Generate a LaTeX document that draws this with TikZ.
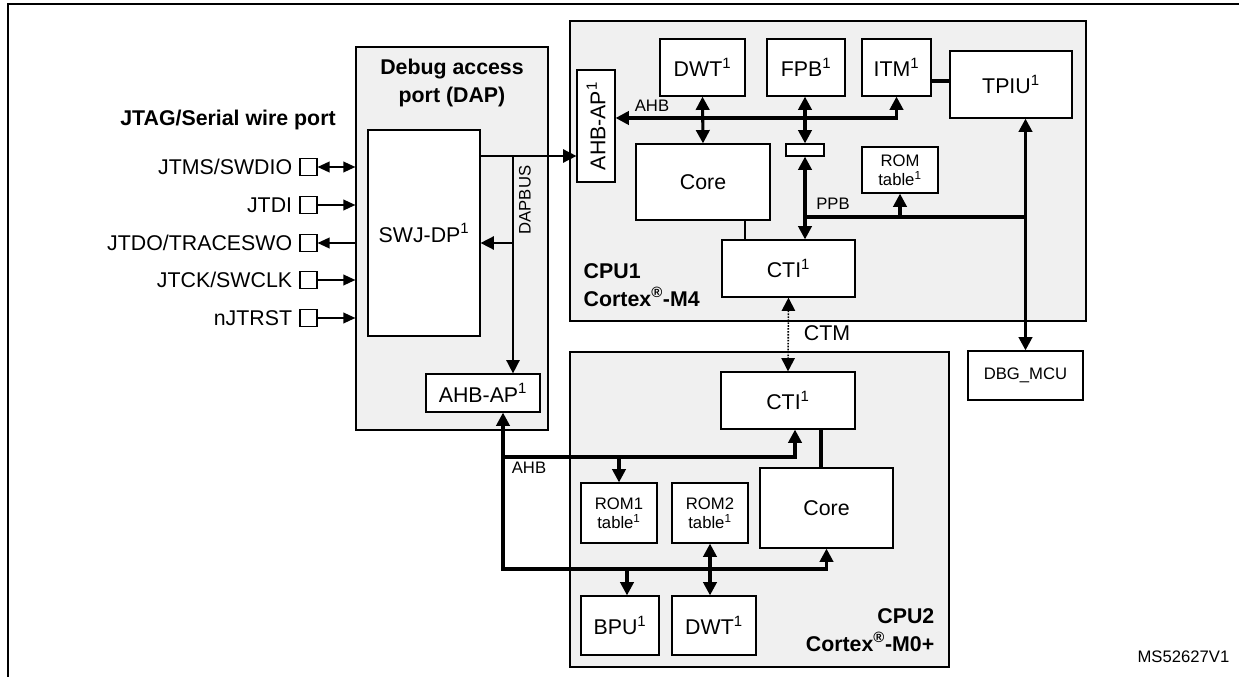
\documentclass[tikz,border=0pt]{standalone}
\usepackage{fontspec}
\setmainfont{Liberation Sans}
\usetikzlibrary{arrows.meta,positioning}

\begin{document}
\begin{tikzpicture}[
  x=0.75pt, y=-0.75pt,
  font=\fontsize{16}{18}\selectfont,          % main text size
  sz/.style 2 args = {minimum width=#1*0.75pt,
                      minimum height=#2*0.75pt},
  box/.style      = {rectangle, draw, fill=white, line width=0.9pt,
                     inner sep=0pt, align=center},
  group/.style    = {rectangle, draw, fill=black!6, line width=0.9pt,
                     inner sep=0pt},
  small/.style    = {font=\fontsize{12.5}{14}\selectfont},
  heading/.style  = {font=\bfseries\fontsize{16}{21}\selectfont},
  pin/.style      = {rectangle, draw, fill=white, line width=0.8pt,
                     minimum size=17*0.75pt, inner sep=0pt},
  thin/.tip       = {Triangle[length=9pt,width=8pt]},
  tip/.tip        = {Triangle[length=10pt,width=10pt]},
  arrow/.style    = {line width=1.2pt, -thin},
  bus/.style      = {line width=2.3pt}
]
\useasboundingbox (0,0) rectangle (1239,677);

% outer frame
\draw[line width=1pt] (8,677) -- (8,4) -- (1239,4);

% containers
\node[group, sz={192}{383}] (dap)  at (452,238.5) {};
\node[group, sz={516}{300}] (cpua) at (828,171)   {};
\node[group, sz={379}{315}] (cpub) at (759.5,509.5) {};

\node[heading, align=center] (daplbl) at (452,83) {Debug access\\port (DAP)};
\node[heading, align=left, anchor=west] (cpualbl) at (579,285) {CPU1\\Cortex\textsuperscript{®}-M4};
\node[heading, align=right, anchor=east] (cpublbl) at (939,630) {CPU2\\Cortex\textsuperscript{®}-M0+};
\node[heading] (jtaglbl) at (228,120) {JTAG/Serial wire port};

% DAP
\node[box, sz={112}{206}] (swj)   at (424,233) {SWJ-DP\textsuperscript{1}};
\node[box, sz={114}{38}]  (apdap) at (483,393) {AHB-AP\textsuperscript{1}};

% ports
\node[pin] (p1) at (308.5,167) {};
\node[pin] (p2) at (308.5,205) {};
\node[pin] (p3) at (308.5,243) {};
\node[pin] (p4) at (308.5,280) {};
\node[pin] (p5) at (308.5,318) {};
\node[left=2pt of p1] (p1lbl) {JTMS/SWDIO};
\node[left=2pt of p2] (p2lbl) {JTDI};
\node[left=2pt of p3] (p3lbl) {JTDO/TRACESWO};
\node[left=2pt of p4] (p4lbl) {JTCK/SWCLK};
\node[left=2pt of p5] (p5lbl) {nJTRST};

% CPU1
\node[box, sz={38}{112}]  (apa)   at (596,126)    {\rotatebox{90}{AHB-AP\textsuperscript{1}}};
\node[box, sz={85}{57}]   (dwta)  at (702.5,67.5) {DWT\textsuperscript{1}};
\node[box, sz={78}{57}]   (fpb)   at (806,67.5)   {FPB\textsuperscript{1}};
\node[box, sz={69}{57}]   (itm)   at (896.5,67.5) {ITM\textsuperscript{1}};
\node[box, sz={122}{67}]  (tpiu)  at (1011,84.5)  {TPIU\textsuperscript{1}};
\node[box, sz={134}{76}]  (corea) at (703,182)    {Core};
\node[box, sz={38}{12}]   (mux)   at (805,150)    {};
\node[box, small, sz={76}{46}] (rom) at (900,170) {ROM\\table\textsuperscript{1}};
\node[box, sz={133}{57}]  (ctia)  at (788.5,268.5) {CTI\textsuperscript{1}};

\node[box, small, sz={115}{49}] (dbg) at (1025.5,375.5) {DBG\_MCU};

% CPU2
\node[box, sz={134}{57}]  (ctib)  at (788,400.5)  {CTI\textsuperscript{1}};
\node[box, sz={133}{80}]  (coreb) at (826.5,508)  {Core};
\node[box, small, sz={76}{60}] (rom1) at (619,513) {ROM1\\table\textsuperscript{1}};
\node[box, small, sz={76}{60}] (rom2) at (710,513) {ROM2\\table\textsuperscript{1}};
\node[box, sz={78}{59}]   (bpu)   at (620,625.5)  {BPU\textsuperscript{1}};
\node[box, sz={84}{59}]   (dwtb)  at (714,625.5)  {DWT\textsuperscript{1}};

% port connectors
\draw[arrow, thin-thin] (p1.east) -- (p1.east -| dap.west);
\draw[arrow] (p2.east) -- (p2.east -| dap.west);
\draw[arrow] (p3.east -| dap.west) -- (p3.east);
\draw[arrow] (p4.east) -- (p4.east -| dap.west);
\draw[arrow] (p5.east) -- (p5.east -| dap.west);

% DAPBUS
\coordinate (dbus) at (513,156);
\draw[arrow, -tip] (swj.east |- dbus) -- (apa.west |- dbus);
\draw[arrow, -tip] (dbus) -- (dbus |- apdap.north);
\draw[arrow, -tip] (dbus |- p3) -- (swj.east |- p3);
\node[small, rotate=90] (dbuslbl) at (525,200) {DAPBUS};

% CPU1 buses
\draw[bus, tip-tip] (apa.east |- 0,118) -| (itm.south);
\node[small] (ahbalbl) at (652,106) {AHB};
\draw[bus, tip-tip] (dwta.south) -- (corea.north);
\draw[bus, tip-tip] (fpb.south -| mux.north) -- (mux.north);
\draw[bus, tip-tip] (mux.south) -- (mux.south |- ctia.north);
\draw[bus] (mux.south |- 0,217) -- (dbg.north |- 0,217);
\node[small] (ppblbl) at (833,204) {PPB};
\draw[bus, -tip] (rom.south |- 0,217) -- (rom.south);
\draw[bus, tip-tip] (tpiu.south -| dbg.north) -- (dbg.north);
\draw[bus] (itm.east |- 0,81) -- (tpiu.west |- 0,81);
\draw[line width=0.8pt] (corea.south -| 745,0) -- (ctia.north -| 745,0);

% CTM
\draw[line width=1.2pt, densely dotted, tip-tip] (ctia.south) -- (ctib.north);
\node (ctmlbl) at (827,333) {CTM};

% CPU2 buses
\draw[bus, tip-tip] (apdap.south -| 503,0) |- (coreb.south |- 0,569) -- (coreb.south);
\draw[bus, -tip] (503,457) -| (ctib.south -| 795,0);
\node[small] (ahbblbl) at (529,468) {AHB};
\draw[bus, -tip] (rom1.north |- 0,457) -- (rom1.north);
\draw[bus, -tip] (627,569) -- (bpu.north -| 627,0);
\draw[bus, tip-tip] (rom2.south) -- (rom2.south |- dwtb.north);
\draw[bus] (ctib.south -| 821,0) -- (coreb.north -| 821,0);

\node[small, anchor=east] (ref) at (1234,657) {MS52627V1};
\end{tikzpicture}
\end{document}
